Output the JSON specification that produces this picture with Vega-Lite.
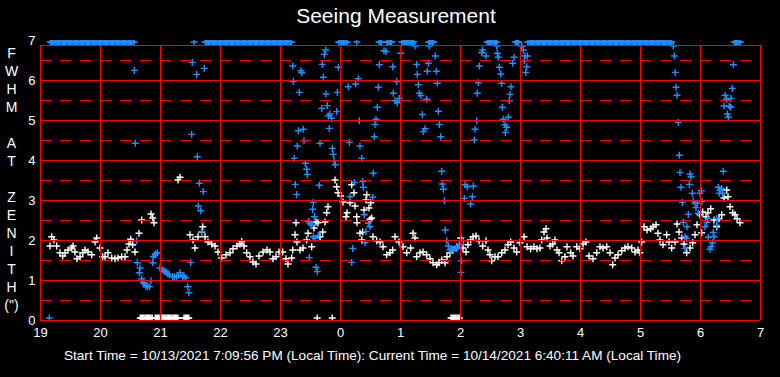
{
"$schema": "https://vega.github.io/schema/vega-lite/v6.json",
"width": 720, "height": 280,
"autosize": "none",
"padding": {"left": 40, "top": 40, "right": 20, "bottom": 57},
"background": "black",
"config": {"view": {"stroke": null}, "font": "Liberation Sans",
"axis": {"labelOverlap": false, "labelFlush": false, "labelBound": false, "domain": false, "ticks": false, "grid": false, "labelColor": "white", "labelFontSize": 13, "labelFont": "Liberation Sans", "titleColor": "white", "titleFontWeight": "normal", "titleFont": "Liberation Sans"}},
"title": {"text": "Seeing Measurement", "color": "white", "fontSize": 21, "fontWeight": "normal", "font": "Liberation Sans", "frame": "group", "anchor": "middle", "dx": -4, "offset": 7},
"datasets": {
"pts": [
{"t":19.167,"v":1.85,"s":"w"},{"t":19.195,"v":2.08,"s":"w"},{"t":19.233,"v":2.0,"s":"w"},{"t":19.278,"v":1.85,"s":"w"},{"t":19.333,"v":1.68,"s":"w"},{"t":19.378,"v":1.6,"s":"w"},{"t":19.417,"v":1.68,"s":"w"},{"t":19.467,"v":1.75,"s":"w"},{"t":19.528,"v":1.8,"s":"w"},{"t":19.55,"v":1.85,"s":"w"},{"t":19.583,"v":1.7,"s":"w"},{"t":19.617,"v":1.53,"s":"w"},{"t":19.667,"v":1.58,"s":"w"},{"t":19.712,"v":1.68,"s":"w"},{"t":19.75,"v":1.75,"s":"w"},{"t":19.8,"v":1.7,"s":"w"},{"t":19.862,"v":1.63,"s":"w"},{"t":19.917,"v":1.95,"s":"w"},{"t":19.945,"v":2.05,"s":"w"},{"t":20.0,"v":1.8,"s":"w"},{"t":20.045,"v":1.58,"s":"w"},{"t":20.083,"v":1.58,"s":"w"},{"t":20.133,"v":1.68,"s":"w"},{"t":20.195,"v":1.55,"s":"w"},{"t":20.25,"v":1.53,"s":"w"},{"t":20.3,"v":1.55,"s":"w"},{"t":20.362,"v":1.58,"s":"w"},{"t":20.417,"v":1.58,"s":"w"},{"t":20.45,"v":1.75,"s":"w"},{"t":20.483,"v":1.9,"s":"w"},{"t":20.512,"v":2.02,"s":"w"},{"t":20.545,"v":1.88,"s":"w"},{"t":20.583,"v":1.7,"s":"w"},{"t":20.65,"v":2.17,"s":"w"},{"t":20.695,"v":2.5,"s":"w"},{"t":20.85,"v":2.65,"s":"w"},{"t":20.878,"v":2.55,"s":"w"},{"t":20.9,"v":2.43,"s":"w"},{"t":21.3,"v":3.5,"s":"w"},{"t":21.333,"v":3.57,"s":"w"},{"t":21.5,"v":2.13,"s":"w"},{"t":21.55,"v":2.0,"s":"w"},{"t":21.583,"v":1.8,"s":"w"},{"t":21.633,"v":2.08,"s":"w"},{"t":21.695,"v":2.2,"s":"w"},{"t":21.712,"v":2.33,"s":"w"},{"t":21.75,"v":2.08,"s":"w"},{"t":21.8,"v":1.95,"s":"w"},{"t":21.862,"v":1.9,"s":"w"},{"t":21.917,"v":1.85,"s":"w"},{"t":21.967,"v":1.7,"s":"w"},{"t":22.028,"v":1.55,"s":"w"},{"t":22.1,"v":1.63,"s":"w"},{"t":22.167,"v":1.68,"s":"w"},{"t":22.217,"v":1.78,"s":"w"},{"t":22.283,"v":1.85,"s":"w"},{"t":22.333,"v":1.9,"s":"w"},{"t":22.362,"v":1.96,"s":"w"},{"t":22.4,"v":1.85,"s":"w"},{"t":22.445,"v":1.68,"s":"w"},{"t":22.5,"v":1.58,"s":"w"},{"t":22.55,"v":1.45,"s":"w"},{"t":22.6,"v":1.4,"s":"w"},{"t":22.65,"v":1.6,"s":"w"},{"t":22.717,"v":1.7,"s":"w"},{"t":22.783,"v":1.75,"s":"w"},{"t":22.833,"v":1.7,"s":"w"},{"t":22.883,"v":1.53,"s":"w"},{"t":22.933,"v":1.58,"s":"w"},{"t":22.983,"v":1.7,"s":"w"},{"t":23.045,"v":1.7,"s":"w"},{"t":23.1,"v":1.53,"s":"w"},{"t":23.133,"v":1.4,"s":"w"},{"t":23.195,"v":1.55,"s":"w"},{"t":23.212,"v":1.75,"s":"w"},{"t":23.25,"v":2.13,"s":"w"},{"t":23.267,"v":2.43,"s":"w"},{"t":23.283,"v":1.95,"s":"w"},{"t":23.333,"v":1.75,"s":"w"},{"t":23.383,"v":1.8,"s":"w"},{"t":23.445,"v":2.0,"s":"w"},{"t":23.467,"v":2.17,"s":"w"},{"t":23.528,"v":1.83,"s":"w"},{"t":23.567,"v":2.3,"s":"w"},{"t":23.6,"v":2.45,"s":"w"},{"t":23.633,"v":2.43,"s":"w"},{"t":23.667,"v":2.08,"s":"w"},{"t":23.712,"v":2.2,"s":"w"},{"t":23.75,"v":2.45,"s":"w"},{"t":23.778,"v":2.68,"s":"w"},{"t":23.8,"v":2.83,"s":"w"},{"t":23.917,"v":3.5,"s":"w"},{"t":23.945,"v":3.33,"s":"w"},{"t":23.967,"v":3.18,"s":"w"},{"t":24.012,"v":3.1,"s":"w"},{"t":24.05,"v":2.95,"s":"w"},{"t":24.1,"v":2.58,"s":"w"},{"t":24.117,"v":2.68,"s":"w"},{"t":24.167,"v":2.93,"s":"w"},{"t":24.195,"v":3.38,"s":"w"},{"t":24.233,"v":3.18,"s":"w"},{"t":24.25,"v":2.85,"s":"w"},{"t":24.278,"v":2.58,"s":"w"},{"t":24.283,"v":2.43,"s":"w"},{"t":24.333,"v":2.17,"s":"w"},{"t":24.362,"v":2.0,"s":"w"},{"t":24.378,"v":2.2,"s":"w"},{"t":24.4,"v":2.75,"s":"w"},{"t":24.433,"v":3.0,"s":"w"},{"t":24.445,"v":3.13,"s":"w"},{"t":24.483,"v":2.8,"s":"w"},{"t":24.5,"v":2.52,"s":"w"},{"t":24.512,"v":2.93,"s":"w"},{"t":24.528,"v":2.55,"s":"w"},{"t":24.55,"v":2.08,"s":"w"},{"t":24.612,"v":1.98,"s":"w"},{"t":24.667,"v":1.95,"s":"w"},{"t":24.717,"v":1.83,"s":"w"},{"t":24.778,"v":1.63,"s":"w"},{"t":24.833,"v":1.68,"s":"w"},{"t":24.878,"v":1.75,"s":"w"},{"t":24.917,"v":2.08,"s":"w"},{"t":24.983,"v":1.95,"s":"w"},{"t":25.05,"v":1.83,"s":"w"},{"t":25.112,"v":1.68,"s":"w"},{"t":25.178,"v":1.8,"s":"w"},{"t":25.217,"v":2.17,"s":"w"},{"t":25.25,"v":2.05,"s":"w"},{"t":25.278,"v":1.58,"s":"w"},{"t":25.333,"v":1.68,"s":"w"},{"t":25.383,"v":1.7,"s":"w"},{"t":25.445,"v":1.63,"s":"w"},{"t":25.5,"v":1.53,"s":"w"},{"t":25.55,"v":1.43,"s":"w"},{"t":25.612,"v":1.38,"s":"w"},{"t":25.65,"v":1.43,"s":"w"},{"t":25.695,"v":1.5,"s":"w"},{"t":25.75,"v":1.43,"s":"w"},{"t":25.783,"v":1.58,"s":"w"},{"t":25.833,"v":1.68,"s":"w"},{"t":25.883,"v":1.75,"s":"w"},{"t":25.95,"v":1.83,"s":"w"},{"t":26.012,"v":2.05,"s":"w"},{"t":26.05,"v":1.8,"s":"w"},{"t":26.1,"v":1.7,"s":"w"},{"t":26.133,"v":1.88,"s":"w"},{"t":26.178,"v":2.0,"s":"w"},{"t":26.217,"v":2.08,"s":"w"},{"t":26.267,"v":2.1,"s":"w"},{"t":26.317,"v":1.98,"s":"w"},{"t":26.378,"v":1.85,"s":"w"},{"t":26.433,"v":1.98,"s":"w"},{"t":26.467,"v":1.75,"s":"w"},{"t":26.5,"v":1.63,"s":"w"},{"t":26.528,"v":1.48,"s":"w"},{"t":26.583,"v":1.58,"s":"w"},{"t":26.633,"v":1.58,"s":"w"},{"t":26.695,"v":1.68,"s":"w"},{"t":26.75,"v":1.75,"s":"w"},{"t":26.8,"v":1.88,"s":"w"},{"t":26.845,"v":1.95,"s":"w"},{"t":26.9,"v":1.8,"s":"w"},{"t":26.945,"v":1.7,"s":"w"},{"t":27.0,"v":1.93,"s":"w"},{"t":27.067,"v":2.08,"s":"w"},{"t":27.117,"v":1.83,"s":"w"},{"t":27.178,"v":1.78,"s":"w"},{"t":27.233,"v":1.83,"s":"w"},{"t":27.283,"v":1.78,"s":"w"},{"t":27.333,"v":1.8,"s":"w"},{"t":27.362,"v":2.0,"s":"w"},{"t":27.4,"v":2.2,"s":"w"},{"t":27.433,"v":2.28,"s":"w"},{"t":27.45,"v":2.05,"s":"w"},{"t":27.5,"v":1.85,"s":"w"},{"t":27.545,"v":1.9,"s":"w"},{"t":27.583,"v":2.0,"s":"w"},{"t":27.617,"v":1.75,"s":"w"},{"t":27.65,"v":1.68,"s":"w"},{"t":27.695,"v":1.48,"s":"w"},{"t":27.75,"v":1.58,"s":"w"},{"t":27.783,"v":1.83,"s":"w"},{"t":27.845,"v":1.68,"s":"w"},{"t":27.883,"v":1.6,"s":"w"},{"t":27.945,"v":1.83,"s":"w"},{"t":28.0,"v":1.78,"s":"w"},{"t":28.05,"v":1.9,"s":"w"},{"t":28.1,"v":1.95,"s":"w"},{"t":28.15,"v":1.6,"s":"w"},{"t":28.217,"v":1.53,"s":"w"},{"t":28.278,"v":1.68,"s":"w"},{"t":28.333,"v":1.83,"s":"w"},{"t":28.383,"v":1.8,"s":"w"},{"t":28.445,"v":1.83,"s":"w"},{"t":28.5,"v":1.68,"s":"w"},{"t":28.545,"v":1.38,"s":"w"},{"t":28.583,"v":1.55,"s":"w"},{"t":28.633,"v":1.63,"s":"w"},{"t":28.695,"v":1.73,"s":"w"},{"t":28.75,"v":1.8,"s":"w"},{"t":28.8,"v":1.83,"s":"w"},{"t":28.862,"v":1.8,"s":"w"},{"t":28.917,"v":1.7,"s":"w"},{"t":28.967,"v":1.75,"s":"w"},{"t":29.0,"v":1.68,"s":"w"},{"t":29.028,"v":1.95,"s":"w"},{"t":29.067,"v":2.33,"s":"w"},{"t":29.117,"v":2.25,"s":"w"},{"t":29.178,"v":2.28,"s":"w"},{"t":29.217,"v":2.33,"s":"w"},{"t":29.267,"v":2.38,"s":"w"},{"t":29.3,"v":2.17,"s":"w"},{"t":29.333,"v":2.0,"s":"w"},{"t":29.383,"v":1.88,"s":"w"},{"t":29.445,"v":2.13,"s":"w"},{"t":29.483,"v":1.95,"s":"w"},{"t":29.528,"v":1.8,"s":"w"},{"t":29.583,"v":1.95,"s":"w"},{"t":29.617,"v":2.4,"s":"w"},{"t":29.65,"v":2.2,"s":"w"},{"t":29.695,"v":2.05,"s":"w"},{"t":29.733,"v":1.9,"s":"w"},{"t":29.778,"v":1.68,"s":"w"},{"t":29.833,"v":1.8,"s":"w"},{"t":29.878,"v":1.93,"s":"w"},{"t":29.917,"v":2.13,"s":"w"},{"t":29.95,"v":2.38,"s":"w"},{"t":30.0,"v":2.63,"s":"w"},{"t":30.028,"v":2.18,"s":"w"},{"t":30.045,"v":2.7,"s":"w"},{"t":30.1,"v":2.58,"s":"w"},{"t":30.133,"v":2.68,"s":"w"},{"t":30.178,"v":2.78,"s":"w"},{"t":30.233,"v":2.5,"s":"w"},{"t":30.278,"v":2.33,"s":"w"},{"t":30.317,"v":2.53,"s":"w"},{"t":30.362,"v":2.63,"s":"w"},{"t":30.4,"v":3.05,"s":"w"},{"t":30.445,"v":3.25,"s":"w"},{"t":30.467,"v":3.08,"s":"w"},{"t":30.5,"v":2.83,"s":"w"},{"t":30.545,"v":2.68,"s":"w"},{"t":30.583,"v":2.63,"s":"w"},{"t":30.617,"v":2.53,"s":"w"},{"t":30.667,"v":2.43,"s":"w"},
{"t":20.67,"v":0.05,"s":"w"},{"t":20.69,"v":0.05,"s":"w"},{"t":20.71,"v":0.05,"s":"w"},{"t":20.73,"v":0.05,"s":"w"},{"t":20.75,"v":0.05,"s":"w"},{"t":20.77,"v":0.05,"s":"w"},{"t":20.79,"v":0.05,"s":"w"},{"t":20.81,"v":0.05,"s":"w"},{"t":20.83,"v":0.05,"s":"w"},{"t":20.85,"v":0.05,"s":"w"},{"t":20.87,"v":0.05,"s":"w"},{"t":20.92,"v":0.05,"s":"w"},{"t":20.94,"v":0.05,"s":"w"},{"t":20.96,"v":0.05,"s":"w"},{"t":20.98,"v":0.05,"s":"w"},{"t":21.0,"v":0.05,"s":"w"},{"t":21.02,"v":0.05,"s":"w"},{"t":21.04,"v":0.05,"s":"w"},{"t":21.06,"v":0.05,"s":"w"},{"t":21.08,"v":0.05,"s":"w"},{"t":21.1,"v":0.05,"s":"w"},{"t":21.12,"v":0.05,"s":"w"},{"t":21.14,"v":0.05,"s":"w"},{"t":21.16,"v":0.05,"s":"w"},{"t":21.18,"v":0.05,"s":"w"},{"t":21.2,"v":0.05,"s":"w"},{"t":21.22,"v":0.05,"s":"w"},{"t":21.24,"v":0.05,"s":"w"},{"t":21.26,"v":0.05,"s":"w"},{"t":21.28,"v":0.05,"s":"w"},{"t":21.3,"v":0.05,"s":"w"},{"t":21.4,"v":0.05,"s":"w"},{"t":21.42,"v":0.05,"s":"w"},{"t":21.44,"v":0.05,"s":"w"},{"t":21.46,"v":0.05,"s":"w"},{"t":21.48,"v":0.05,"s":"w"},{"t":25.85,"v":0.05,"s":"w"},{"t":25.87,"v":0.05,"s":"w"},{"t":25.89,"v":0.05,"s":"w"},{"t":25.91,"v":0.05,"s":"w"},{"t":25.93,"v":0.05,"s":"w"},{"t":25.95,"v":0.05,"s":"w"},{"t":25.97,"v":0.05,"s":"w"},{"t":25.99,"v":0.05,"s":"w"},{"t":23.62,"v":0.05,"s":"w"},{"t":23.87,"v":0.05,"s":"w"},
{"t":19.155,"v":0.05,"s":"b"},{"t":20.572,"v":6.24,"s":"b"},{"t":20.588,"v":4.42,"s":"b"},{"t":20.612,"v":1.98,"s":"b"},{"t":20.622,"v":1.43,"s":"b"},{"t":20.667,"v":1.3,"s":"b"},{"t":20.655,"v":1.18,"s":"b"},{"t":20.695,"v":1.03,"s":"b"},{"t":20.722,"v":0.93,"s":"b"},{"t":20.74,"v":0.9,"s":"b"},{"t":20.767,"v":0.83,"s":"b"},{"t":20.79,"v":0.85,"s":"b"},{"t":20.822,"v":0.83,"s":"b"},{"t":20.85,"v":0.98,"s":"b"},{"t":20.878,"v":1.43,"s":"b"},{"t":20.888,"v":1.58,"s":"b"},{"t":20.917,"v":1.63,"s":"b"},{"t":20.93,"v":1.65,"s":"b"},{"t":20.955,"v":1.68,"s":"b"},{"t":21.0,"v":1.3,"s":"b"},{"t":21.045,"v":1.25,"s":"b"},{"t":21.07,"v":1.22,"s":"b"},{"t":21.1,"v":1.2,"s":"b"},{"t":21.13,"v":1.15,"s":"b"},{"t":21.155,"v":1.13,"s":"b"},{"t":21.212,"v":1.08,"s":"b"},{"t":21.24,"v":1.08,"s":"b"},{"t":21.278,"v":1.08,"s":"b"},{"t":21.31,"v":1.12,"s":"b"},{"t":21.333,"v":1.18,"s":"b"},{"t":21.378,"v":1.08,"s":"b"},{"t":21.4,"v":1.1,"s":"b"},{"t":21.428,"v":1.05,"s":"b"},{"t":21.462,"v":0.83,"s":"b"},{"t":21.483,"v":0.68,"s":"b"},{"t":21.512,"v":1.44,"s":"b"},{"t":21.528,"v":4.64,"s":"b"},{"t":21.538,"v":6.44,"s":"b"},{"t":21.612,"v":6.14,"s":"b"},{"t":21.622,"v":4.08,"s":"b"},{"t":21.638,"v":2.85,"s":"b"},{"t":21.655,"v":3.42,"s":"b"},{"t":21.678,"v":2.73,"s":"b"},{"t":21.695,"v":2.21,"s":"b"},{"t":21.722,"v":3.21,"s":"b"},{"t":21.738,"v":6.29,"s":"b"},
{"t":23.212,"v":6.35,"s":"b"},{"t":23.222,"v":5.96,"s":"b"},{"t":23.238,"v":4.04,"s":"b"},{"t":23.255,"v":3.39,"s":"b"},{"t":23.278,"v":3.14,"s":"b"},{"t":23.288,"v":4.35,"s":"b"},{"t":23.305,"v":4.73,"s":"b"},{"t":23.322,"v":5.69,"s":"b"},{"t":23.35,"v":6.23,"s":"b"},{"t":23.362,"v":6.18,"s":"b"},{"t":23.388,"v":4.77,"s":"b"},{"t":23.4,"v":4.48,"s":"b"},{"t":23.422,"v":3.92,"s":"b"},{"t":23.445,"v":3.77,"s":"b"},{"t":23.455,"v":3.64,"s":"b"},{"t":23.472,"v":2.46,"s":"b"},{"t":23.488,"v":1.56,"s":"b"},{"t":23.5,"v":2.42,"s":"b"},{"t":23.528,"v":2.37,"s":"b"},{"t":23.545,"v":2.77,"s":"b"},{"t":23.555,"v":2.94,"s":"b"},{"t":23.555,"v":2.08,"s":"b"},{"t":23.572,"v":2.58,"s":"b"},{"t":23.583,"v":2.04,"s":"b"},{"t":23.6,"v":1.32,"s":"b"},{"t":23.622,"v":1.21,"s":"b"},{"t":23.638,"v":2.11,"s":"b"},{"t":23.655,"v":3.37,"s":"b"},{"t":23.667,"v":4.42,"s":"b"},{"t":23.695,"v":5.29,"s":"b"},{"t":23.705,"v":6.39,"s":"b"},{"t":23.722,"v":6.07,"s":"b"},{"t":23.738,"v":6.64,"s":"b"},{"t":23.762,"v":6.75,"s":"b"},{"t":23.767,"v":5.65,"s":"b"},{"t":23.788,"v":5.36,"s":"b"},{"t":23.805,"v":5.1,"s":"b"},{"t":23.822,"v":4.79,"s":"b"},{"t":23.833,"v":5.15,"s":"b"},{"t":23.862,"v":5.04,"s":"b"},{"t":23.872,"v":4.29,"s":"b"},{"t":23.888,"v":4.14,"s":"b"},{"t":23.9,"v":3.98,"s":"b"},{"t":23.922,"v":3.88,"s":"b"},{"t":23.945,"v":5.21,"s":"b"},{"t":23.955,"v":5.69,"s":"b"},{"t":23.972,"v":6.32,"s":"b"},
{"t":24.138,"v":5.83,"s":"b"},{"t":24.155,"v":4.44,"s":"b"},{"t":24.167,"v":3.08,"s":"b"},{"t":24.195,"v":1.44,"s":"b"},{"t":24.212,"v":1.79,"s":"b"},{"t":24.238,"v":3.44,"s":"b"},{"t":24.262,"v":5.9,"s":"b"},{"t":24.305,"v":6.03,"s":"b"},{"t":24.322,"v":4.98,"s":"b"},{"t":24.333,"v":4.35,"s":"b"},{"t":24.362,"v":4.04,"s":"b"},{"t":24.378,"v":3.46,"s":"b"},{"t":24.388,"v":3.32,"s":"b"},{"t":24.405,"v":2.63,"s":"b"},{"t":24.417,"v":1.93,"s":"b"},{"t":24.433,"v":2.21,"s":"b"},{"t":24.472,"v":2.42,"s":"b"},{"t":24.5,"v":2.33,"s":"b"},{"t":24.545,"v":3.07,"s":"b"},{"t":24.555,"v":3.67,"s":"b"},{"t":24.572,"v":4.58,"s":"b"},{"t":24.583,"v":4.89,"s":"b"},{"t":24.6,"v":5.02,"s":"b"},{"t":24.622,"v":5.32,"s":"b"},{"t":24.638,"v":5.82,"s":"b"},{"t":24.655,"v":6.38,"s":"b"},{"t":24.733,"v":6.73,"s":"b"},{"t":24.767,"v":6.71,"s":"b"},{"t":24.878,"v":6.33,"s":"b"},{"t":24.888,"v":5.67,"s":"b"},{"t":24.917,"v":5.48,"s":"b"},{"t":24.945,"v":5.96,"s":"b"},{"t":24.955,"v":5.43,"s":"b"},{"t":24.988,"v":5.54,"s":"b"},{"t":25.012,"v":6.67,"s":"b"},{"t":25.25,"v":6.85,"s":"b"},{"t":25.278,"v":6.39,"s":"b"},{"t":25.288,"v":6.14,"s":"b"},{"t":25.305,"v":5.88,"s":"b"},{"t":25.322,"v":5.67,"s":"b"},{"t":25.35,"v":5.61,"s":"b"},{"t":25.372,"v":5.14,"s":"b"},{"t":25.388,"v":4.71,"s":"b"},{"t":25.417,"v":4.78,"s":"b"},{"t":25.445,"v":5.52,"s":"b"},{"t":25.455,"v":6.22,"s":"b"},{"t":25.472,"v":6.42,"s":"b"},{"t":25.488,"v":6.85,"s":"b"},{"t":25.588,"v":6.6,"s":"b"},{"t":25.605,"v":6.22,"s":"b"},{"t":25.622,"v":5.92,"s":"b"},{"t":25.638,"v":5.22,"s":"b"},{"t":25.655,"v":4.89,"s":"b"},{"t":25.678,"v":4.58,"s":"b"},{"t":25.695,"v":3.72,"s":"b"},{"t":25.705,"v":3.4,"s":"b"},{"t":25.722,"v":3.27,"s":"b"},{"t":25.738,"v":2.98,"s":"b"},{"t":25.755,"v":2.25,"s":"b"},{"t":25.778,"v":1.98,"s":"b"},{"t":25.805,"v":1.85,"s":"b"},{"t":25.833,"v":1.75,"s":"b"},{"t":25.862,"v":1.77,"s":"b"},{"t":25.888,"v":1.75,"s":"b"},{"t":25.917,"v":1.78,"s":"b"},{"t":25.945,"v":1.79,"s":"b"},{"t":25.967,"v":1.83,"s":"b"},{"t":25.988,"v":1.88,"s":"b"},{"t":26.028,"v":1.48,"s":"b"},{"t":26.017,"v":1.19,"s":"b"},{"t":26.055,"v":1.98,"s":"b"},{"t":26.072,"v":3.04,"s":"b"},{"t":26.083,"v":3.38,"s":"b"},{"t":26.122,"v":3.33,"s":"b"},{"t":26.178,"v":2.9,"s":"b"},{"t":26.205,"v":3.08,"s":"b"},{"t":26.222,"v":3.35,"s":"b"},{"t":26.238,"v":4.5,"s":"b"},{"t":26.25,"v":4.77,"s":"b"},{"t":26.278,"v":4.98,"s":"b"},{"t":26.288,"v":5.67,"s":"b"},{"t":26.305,"v":5.93,"s":"b"},{"t":26.322,"v":6.35,"s":"b"},{"t":26.362,"v":6.68,"s":"b"},{"t":26.378,"v":6.75,"s":"b"},{"t":26.433,"v":6.6,"s":"b"},{"t":26.612,"v":6.85,"s":"b"},{"t":26.622,"v":6.67,"s":"b"},{"t":26.638,"v":6.57,"s":"b"},{"t":26.655,"v":6.32,"s":"b"},{"t":26.678,"v":6.15,"s":"b"},{"t":26.695,"v":5.92,"s":"b"},{"t":26.705,"v":5.32,"s":"b"},{"t":26.722,"v":5.02,"s":"b"},{"t":26.75,"v":4.88,"s":"b"},{"t":26.755,"v":4.69,"s":"b"},{"t":26.778,"v":4.82,"s":"b"},{"t":26.805,"v":5.07,"s":"b"},{"t":26.822,"v":5.48,"s":"b"},{"t":26.833,"v":5.64,"s":"b"},{"t":26.85,"v":5.83,"s":"b"},{"t":26.878,"v":6.42,"s":"b"},{"t":26.9,"v":6.57,"s":"b"},{"t":27.028,"v":6.85,"s":"b"},{"t":27.055,"v":6.75,"s":"b"},{"t":27.072,"v":6.48,"s":"b"},{"t":27.083,"v":6.6,"s":"b"},{"t":27.095,"v":6.19,"s":"b"},{"t":27.112,"v":6.33,"s":"b"},{"t":27.122,"v":6.6,"s":"b"},
{"t":29.555,"v":6.85,"s":"b"},{"t":29.572,"v":6.6,"s":"b"},{"t":29.588,"v":6.19,"s":"b"},{"t":29.6,"v":5.82,"s":"b"},{"t":29.617,"v":5.62,"s":"b"},{"t":29.638,"v":4.94,"s":"b"},{"t":29.655,"v":4.12,"s":"b"},{"t":29.667,"v":3.69,"s":"b"},{"t":29.683,"v":3.32,"s":"b"},{"t":29.705,"v":2.94,"s":"b"},{"t":29.722,"v":2.44,"s":"b"},{"t":29.75,"v":2.08,"s":"b"},{"t":29.75,"v":1.79,"s":"b"},{"t":29.778,"v":2.04,"s":"b"},{"t":29.783,"v":2.33,"s":"b"},{"t":29.805,"v":2.64,"s":"b"},{"t":29.822,"v":3.39,"s":"b"},{"t":29.833,"v":3.65,"s":"b"},{"t":29.85,"v":3.58,"s":"b"},{"t":29.872,"v":3.17,"s":"b"},{"t":29.888,"v":2.98,"s":"b"},{"t":29.917,"v":2.92,"s":"b"},{"t":29.933,"v":2.81,"s":"b"},{"t":29.955,"v":2.92,"s":"b"},{"t":29.972,"v":2.67,"s":"b"},{"t":30.0,"v":3.17,"s":"b"},{"t":30.022,"v":3.23,"s":"b"},{"t":30.033,"v":2.97,"s":"b"},{"t":30.083,"v":2.33,"s":"b"},{"t":30.112,"v":2.44,"s":"b"},{"t":30.128,"v":2.54,"s":"b"},{"t":30.138,"v":2.07,"s":"b"},{"t":30.167,"v":1.77,"s":"b"},{"t":30.183,"v":1.83,"s":"b"},{"t":30.205,"v":1.93,"s":"b"},{"t":30.222,"v":2.19,"s":"b"},{"t":30.233,"v":2.08,"s":"b"},{"t":30.278,"v":2.54,"s":"b"},{"t":30.278,"v":2.37,"s":"b"},{"t":30.305,"v":3.32,"s":"b"},{"t":30.322,"v":3.17,"s":"b"},{"t":30.333,"v":3.25,"s":"b"},{"t":30.362,"v":3.29,"s":"b"},{"t":30.378,"v":3.17,"s":"b"},{"t":30.388,"v":3.72,"s":"b"},{"t":30.4,"v":5.35,"s":"b"},{"t":30.417,"v":5.62,"s":"b"},{"t":30.445,"v":5.52,"s":"b"},{"t":30.455,"v":5.15,"s":"b"},{"t":30.472,"v":5.07,"s":"b"},{"t":30.488,"v":5.35,"s":"b"},{"t":30.512,"v":5.32,"s":"b"},{"t":30.517,"v":5.54,"s":"b"},{"t":30.538,"v":5.79,"s":"b"},{"t":30.555,"v":6.38,"s":"b"},
{"t":19.17,"v":6.95,"s":"b"},{"t":19.19,"v":6.95,"s":"b"},{"t":19.21,"v":6.95,"s":"b"},{"t":19.23,"v":6.95,"s":"b"},{"t":19.25,"v":6.95,"s":"b"},{"t":19.27,"v":6.95,"s":"b"},{"t":19.29,"v":6.95,"s":"b"},{"t":19.31,"v":6.95,"s":"b"},{"t":19.33,"v":6.95,"s":"b"},{"t":19.35,"v":6.95,"s":"b"},{"t":19.37,"v":6.95,"s":"b"},{"t":19.39,"v":6.95,"s":"b"},{"t":19.41,"v":6.95,"s":"b"},{"t":19.43,"v":6.95,"s":"b"},{"t":19.45,"v":6.95,"s":"b"},{"t":19.47,"v":6.95,"s":"b"},{"t":19.49,"v":6.95,"s":"b"},{"t":19.51,"v":6.95,"s":"b"},{"t":19.53,"v":6.95,"s":"b"},{"t":19.55,"v":6.95,"s":"b"},{"t":19.57,"v":6.95,"s":"b"},{"t":19.59,"v":6.95,"s":"b"},{"t":19.61,"v":6.95,"s":"b"},{"t":19.63,"v":6.95,"s":"b"},{"t":19.65,"v":6.95,"s":"b"},{"t":19.67,"v":6.95,"s":"b"},{"t":19.69,"v":6.95,"s":"b"},{"t":19.71,"v":6.95,"s":"b"},{"t":19.73,"v":6.95,"s":"b"},{"t":19.75,"v":6.95,"s":"b"},{"t":19.77,"v":6.95,"s":"b"},{"t":19.79,"v":6.95,"s":"b"},{"t":19.81,"v":6.95,"s":"b"},{"t":19.83,"v":6.95,"s":"b"},{"t":19.85,"v":6.95,"s":"b"},{"t":19.87,"v":6.95,"s":"b"},{"t":19.89,"v":6.95,"s":"b"},{"t":19.91,"v":6.95,"s":"b"},{"t":19.93,"v":6.95,"s":"b"},{"t":19.95,"v":6.95,"s":"b"},{"t":19.97,"v":6.95,"s":"b"},{"t":19.99,"v":6.95,"s":"b"},{"t":20.01,"v":6.95,"s":"b"},{"t":20.03,"v":6.95,"s":"b"},{"t":20.05,"v":6.95,"s":"b"},{"t":20.07,"v":6.95,"s":"b"},{"t":20.09,"v":6.95,"s":"b"},{"t":20.11,"v":6.95,"s":"b"},{"t":20.13,"v":6.95,"s":"b"},{"t":20.15,"v":6.95,"s":"b"},{"t":20.17,"v":6.95,"s":"b"},{"t":20.19,"v":6.95,"s":"b"},{"t":20.21,"v":6.95,"s":"b"},{"t":20.23,"v":6.95,"s":"b"},{"t":20.25,"v":6.95,"s":"b"},{"t":20.27,"v":6.95,"s":"b"},{"t":20.29,"v":6.95,"s":"b"},{"t":20.31,"v":6.95,"s":"b"},{"t":20.33,"v":6.95,"s":"b"},{"t":20.35,"v":6.95,"s":"b"},{"t":20.37,"v":6.95,"s":"b"},{"t":20.39,"v":6.95,"s":"b"},{"t":20.41,"v":6.95,"s":"b"},{"t":20.43,"v":6.95,"s":"b"},{"t":20.45,"v":6.95,"s":"b"},{"t":20.47,"v":6.95,"s":"b"},{"t":20.49,"v":6.95,"s":"b"},{"t":20.51,"v":6.95,"s":"b"},{"t":20.53,"v":6.95,"s":"b"},{"t":20.55,"v":6.95,"s":"b"},{"t":20.57,"v":6.95,"s":"b"},
{"t":21.567,"v":6.95,"s":"b"},
{"t":21.75,"v":6.95,"s":"b"},{"t":21.77,"v":6.95,"s":"b"},{"t":21.79,"v":6.95,"s":"b"},{"t":21.81,"v":6.95,"s":"b"},{"t":21.83,"v":6.95,"s":"b"},{"t":21.85,"v":6.95,"s":"b"},{"t":21.87,"v":6.95,"s":"b"},{"t":21.89,"v":6.95,"s":"b"},{"t":21.91,"v":6.95,"s":"b"},{"t":21.93,"v":6.95,"s":"b"},{"t":21.95,"v":6.95,"s":"b"},{"t":21.97,"v":6.95,"s":"b"},{"t":21.99,"v":6.95,"s":"b"},{"t":22.01,"v":6.95,"s":"b"},{"t":22.03,"v":6.95,"s":"b"},{"t":22.05,"v":6.95,"s":"b"},{"t":22.07,"v":6.95,"s":"b"},{"t":22.09,"v":6.95,"s":"b"},{"t":22.11,"v":6.95,"s":"b"},{"t":22.13,"v":6.95,"s":"b"},{"t":22.15,"v":6.95,"s":"b"},{"t":22.17,"v":6.95,"s":"b"},{"t":22.19,"v":6.95,"s":"b"},{"t":22.21,"v":6.95,"s":"b"},{"t":22.23,"v":6.95,"s":"b"},{"t":22.25,"v":6.95,"s":"b"},{"t":22.27,"v":6.95,"s":"b"},{"t":22.29,"v":6.95,"s":"b"},{"t":22.31,"v":6.95,"s":"b"},{"t":22.33,"v":6.95,"s":"b"},{"t":22.35,"v":6.95,"s":"b"},{"t":22.37,"v":6.95,"s":"b"},{"t":22.39,"v":6.95,"s":"b"},{"t":22.41,"v":6.95,"s":"b"},{"t":22.43,"v":6.95,"s":"b"},{"t":22.45,"v":6.95,"s":"b"},{"t":22.47,"v":6.95,"s":"b"},{"t":22.49,"v":6.95,"s":"b"},{"t":22.51,"v":6.95,"s":"b"},{"t":22.53,"v":6.95,"s":"b"},{"t":22.55,"v":6.95,"s":"b"},{"t":22.57,"v":6.95,"s":"b"},{"t":22.59,"v":6.95,"s":"b"},{"t":22.61,"v":6.95,"s":"b"},{"t":22.63,"v":6.95,"s":"b"},{"t":22.65,"v":6.95,"s":"b"},{"t":22.67,"v":6.95,"s":"b"},{"t":22.69,"v":6.95,"s":"b"},{"t":22.71,"v":6.95,"s":"b"},{"t":22.73,"v":6.95,"s":"b"},{"t":22.75,"v":6.95,"s":"b"},{"t":22.77,"v":6.95,"s":"b"},{"t":22.79,"v":6.95,"s":"b"},{"t":22.81,"v":6.95,"s":"b"},{"t":22.83,"v":6.95,"s":"b"},{"t":22.85,"v":6.95,"s":"b"},{"t":22.87,"v":6.95,"s":"b"},{"t":22.89,"v":6.95,"s":"b"},{"t":22.91,"v":6.95,"s":"b"},{"t":22.93,"v":6.95,"s":"b"},{"t":22.95,"v":6.95,"s":"b"},{"t":22.97,"v":6.95,"s":"b"},{"t":22.99,"v":6.95,"s":"b"},{"t":23.01,"v":6.95,"s":"b"},{"t":23.03,"v":6.95,"s":"b"},{"t":23.05,"v":6.95,"s":"b"},{"t":23.07,"v":6.95,"s":"b"},{"t":23.09,"v":6.95,"s":"b"},{"t":23.11,"v":6.95,"s":"b"},{"t":23.13,"v":6.95,"s":"b"},{"t":23.15,"v":6.95,"s":"b"},{"t":23.17,"v":6.95,"s":"b"},{"t":23.19,"v":6.95,"s":"b"},
{"t":23.98,"v":6.95,"s":"b"},{"t":24.0,"v":6.95,"s":"b"},{"t":24.02,"v":6.95,"s":"b"},{"t":24.04,"v":6.95,"s":"b"},{"t":24.06,"v":6.95,"s":"b"},{"t":24.08,"v":6.95,"s":"b"},{"t":24.1,"v":6.95,"s":"b"},{"t":24.12,"v":6.95,"s":"b"},{"t":24.28,"v":6.95,"s":"b"},
{"t":24.65,"v":6.95,"s":"b"},{"t":24.67,"v":6.95,"s":"b"},{"t":24.69,"v":6.95,"s":"b"},{"t":24.78,"v":6.95,"s":"b"},{"t":24.8,"v":6.95,"s":"b"},{"t":24.82,"v":6.95,"s":"b"},{"t":24.84,"v":6.95,"s":"b"},{"t":24.86,"v":6.95,"s":"b"},
{"t":25.03,"v":6.95,"s":"b"},{"t":25.05,"v":6.95,"s":"b"},{"t":25.07,"v":6.95,"s":"b"},{"t":25.09,"v":6.95,"s":"b"},{"t":25.11,"v":6.95,"s":"b"},{"t":25.13,"v":6.95,"s":"b"},{"t":25.15,"v":6.95,"s":"b"},{"t":25.17,"v":6.95,"s":"b"},{"t":25.19,"v":6.95,"s":"b"},{"t":25.21,"v":6.95,"s":"b"},{"t":25.23,"v":6.95,"s":"b"},
{"t":25.48,"v":6.95,"s":"b"},{"t":25.5,"v":6.95,"s":"b"},{"t":25.52,"v":6.95,"s":"b"},{"t":25.54,"v":6.95,"s":"b"},{"t":25.56,"v":6.95,"s":"b"},
{"t":26.45,"v":6.95,"s":"b"},{"t":26.47,"v":6.95,"s":"b"},{"t":26.49,"v":6.95,"s":"b"},{"t":26.51,"v":6.95,"s":"b"},{"t":26.53,"v":6.95,"s":"b"},{"t":26.55,"v":6.95,"s":"b"},{"t":26.57,"v":6.95,"s":"b"},{"t":26.59,"v":6.95,"s":"b"},{"t":26.61,"v":6.95,"s":"b"},
{"t":26.92,"v":6.95,"s":"b"},{"t":26.94,"v":6.95,"s":"b"},{"t":26.96,"v":6.95,"s":"b"},{"t":26.98,"v":6.95,"s":"b"},
{"t":27.13,"v":6.95,"s":"b"},{"t":27.15,"v":6.95,"s":"b"},{"t":27.17,"v":6.95,"s":"b"},{"t":27.19,"v":6.95,"s":"b"},{"t":27.21,"v":6.95,"s":"b"},{"t":27.23,"v":6.95,"s":"b"},{"t":27.25,"v":6.95,"s":"b"},{"t":27.27,"v":6.95,"s":"b"},{"t":27.29,"v":6.95,"s":"b"},{"t":27.31,"v":6.95,"s":"b"},{"t":27.33,"v":6.95,"s":"b"},{"t":27.35,"v":6.95,"s":"b"},{"t":27.37,"v":6.95,"s":"b"},{"t":27.39,"v":6.95,"s":"b"},{"t":27.41,"v":6.95,"s":"b"},{"t":27.43,"v":6.95,"s":"b"},{"t":27.45,"v":6.95,"s":"b"},{"t":27.47,"v":6.95,"s":"b"},{"t":27.49,"v":6.95,"s":"b"},{"t":27.51,"v":6.95,"s":"b"},{"t":27.53,"v":6.95,"s":"b"},{"t":27.55,"v":6.95,"s":"b"},{"t":27.57,"v":6.95,"s":"b"},{"t":27.59,"v":6.95,"s":"b"},{"t":27.61,"v":6.95,"s":"b"},{"t":27.63,"v":6.95,"s":"b"},{"t":27.65,"v":6.95,"s":"b"},{"t":27.67,"v":6.95,"s":"b"},{"t":27.69,"v":6.95,"s":"b"},{"t":27.71,"v":6.95,"s":"b"},{"t":27.73,"v":6.95,"s":"b"},{"t":27.75,"v":6.95,"s":"b"},{"t":27.77,"v":6.95,"s":"b"},{"t":27.79,"v":6.95,"s":"b"},{"t":27.81,"v":6.95,"s":"b"},{"t":27.83,"v":6.95,"s":"b"},{"t":27.85,"v":6.95,"s":"b"},{"t":27.87,"v":6.95,"s":"b"},{"t":27.89,"v":6.95,"s":"b"},{"t":27.91,"v":6.95,"s":"b"},{"t":27.93,"v":6.95,"s":"b"},{"t":27.95,"v":6.95,"s":"b"},{"t":27.97,"v":6.95,"s":"b"},{"t":27.99,"v":6.95,"s":"b"},{"t":28.01,"v":6.95,"s":"b"},{"t":28.03,"v":6.95,"s":"b"},{"t":28.05,"v":6.95,"s":"b"},{"t":28.07,"v":6.95,"s":"b"},{"t":28.09,"v":6.95,"s":"b"},{"t":28.11,"v":6.95,"s":"b"},{"t":28.13,"v":6.95,"s":"b"},{"t":28.15,"v":6.95,"s":"b"},{"t":28.17,"v":6.95,"s":"b"},{"t":28.19,"v":6.95,"s":"b"},{"t":28.21,"v":6.95,"s":"b"},{"t":28.23,"v":6.95,"s":"b"},{"t":28.25,"v":6.95,"s":"b"},{"t":28.27,"v":6.95,"s":"b"},{"t":28.29,"v":6.95,"s":"b"},{"t":28.31,"v":6.95,"s":"b"},{"t":28.33,"v":6.95,"s":"b"},{"t":28.35,"v":6.95,"s":"b"},{"t":28.37,"v":6.95,"s":"b"},{"t":28.39,"v":6.95,"s":"b"},{"t":28.41,"v":6.95,"s":"b"},{"t":28.43,"v":6.95,"s":"b"},{"t":28.45,"v":6.95,"s":"b"},{"t":28.47,"v":6.95,"s":"b"},{"t":28.49,"v":6.95,"s":"b"},{"t":28.51,"v":6.95,"s":"b"},{"t":28.53,"v":6.95,"s":"b"},{"t":28.55,"v":6.95,"s":"b"},{"t":28.57,"v":6.95,"s":"b"},{"t":28.59,"v":6.95,"s":"b"},{"t":28.61,"v":6.95,"s":"b"},{"t":28.63,"v":6.95,"s":"b"},{"t":28.65,"v":6.95,"s":"b"},{"t":28.67,"v":6.95,"s":"b"},{"t":28.69,"v":6.95,"s":"b"},{"t":28.71,"v":6.95,"s":"b"},{"t":28.73,"v":6.95,"s":"b"},{"t":28.75,"v":6.95,"s":"b"},{"t":28.77,"v":6.95,"s":"b"},{"t":28.79,"v":6.95,"s":"b"},{"t":28.81,"v":6.95,"s":"b"},{"t":28.83,"v":6.95,"s":"b"},{"t":28.85,"v":6.95,"s":"b"},{"t":28.87,"v":6.95,"s":"b"},{"t":28.89,"v":6.95,"s":"b"},{"t":28.91,"v":6.95,"s":"b"},{"t":28.93,"v":6.95,"s":"b"},{"t":28.95,"v":6.95,"s":"b"},{"t":28.97,"v":6.95,"s":"b"},{"t":28.99,"v":6.95,"s":"b"},{"t":29.01,"v":6.95,"s":"b"},{"t":29.03,"v":6.95,"s":"b"},{"t":29.05,"v":6.95,"s":"b"},{"t":29.07,"v":6.95,"s":"b"},{"t":29.09,"v":6.95,"s":"b"},{"t":29.11,"v":6.95,"s":"b"},{"t":29.13,"v":6.95,"s":"b"},{"t":29.15,"v":6.95,"s":"b"},{"t":29.17,"v":6.95,"s":"b"},{"t":29.19,"v":6.95,"s":"b"},{"t":29.21,"v":6.95,"s":"b"},{"t":29.23,"v":6.95,"s":"b"},{"t":29.25,"v":6.95,"s":"b"},{"t":29.27,"v":6.95,"s":"b"},{"t":29.29,"v":6.95,"s":"b"},{"t":29.31,"v":6.95,"s":"b"},{"t":29.33,"v":6.95,"s":"b"},{"t":29.35,"v":6.95,"s":"b"},{"t":29.37,"v":6.95,"s":"b"},{"t":29.39,"v":6.95,"s":"b"},{"t":29.41,"v":6.95,"s":"b"},{"t":29.43,"v":6.95,"s":"b"},{"t":29.45,"v":6.95,"s":"b"},{"t":29.47,"v":6.95,"s":"b"},{"t":29.49,"v":6.95,"s":"b"},{"t":29.51,"v":6.95,"s":"b"},{"t":29.53,"v":6.95,"s":"b"},
{"t":30.57,"v":6.95,"s":"b"},{"t":30.59,"v":6.95,"s":"b"},{"t":30.61,"v":6.95,"s":"b"},{"t":30.63,"v":6.95,"s":"b"},{"t":30.65,"v":6.95,"s":"b"},{"t":30.67,"v":6.95,"s":"b"}
],
"hours": [{"t":19},{"t":20},{"t":21},{"t":22},{"t":23},{"t":24},{"t":25},{"t":26},{"t":27},{"t":28},{"t":29},{"t":30},{"t":31}],
"solid": [{"v":0},{"v":1},{"v":2},{"v":3},{"v":4},{"v":5},{"v":6},{"v":6.875}],
"dashed": [{"v":0.5},{"v":1.5},{"v":2.5},{"v":3.5},{"v":4.5},{"v":5.5},{"v":6.5}]
},
"layer": [
{
"data": {"name": "pts"},
"mark": {"type": "point", "shape": "M-1,0H1M0,-1V1", "filled": false, "size": 49, "strokeWidth": 1.4, "opacity": 1, "clip": true},
"encoding": {
"x": {"field": "t", "type": "quantitative", "scale": {"domain": [19, 31], "nice": false, "zero": false},
"axis": {"values": [19,20,21,22,23,24,25,26,27,28,29,30,31], "labelExpr": "datum.value % 24", "labelPadding": 6, "labelOverlap": false,
"title": "Start Time = 10/13/2021 7:09:56 PM (Local Time): Current Time = 10/14/2021 6:40:11 AM (Local Time)", "titleFontSize": 13.6, "titleX": 332, "titleY": 35, "titleBaseline": "middle", "titleAlign": "center"}},
"y": {"field": "v", "type": "quantitative", "scale": {"domain": [0, 7], "nice": false, "zero": false},
"axis": {"values": [0,1,2,3,4,5,6,7], "tickCount": 8, "labelPadding": 5, "labelOverlap": false,
"title": ["F","W","H","M","\u2800","A","T","\u2800","Z","E","N","I","T","H","(\")"], "titleAngle": 0, "titleX": -29, "titleY": 13, "titleAlign": "center", "titleBaseline": "middle", "titleFontSize": 14, "titleLineHeight": 18}},
"color": {"field": "s", "type": "nominal", "scale": {"domain": ["w", "b"], "range": ["#ffffff", "#1e8fff"]}, "legend": null}
}
},
{
"data": {"name": "hours"},
"mark": {"type": "rule", "color": "#ff0000", "strokeWidth": 1, "xOffset": 0.5},
"encoding": {"x": {"field": "t", "type": "quantitative"}, "y": {"datum": 0, "type": "quantitative", "axis": {"values": [0,1,2,3,4,5,6,7], "tickCount": 8, "labelPadding": 5, "labelOverlap": false}}, "y2": {"datum": 6.875}}
},
{
"data": {"name": "solid"},
"mark": {"type": "rule", "color": "#ff0000", "strokeWidth": 1, "yOffset": 0.5},
"encoding": {"y": {"field": "v", "type": "quantitative", "axis": {"values": [0,1,2,3,4,5,6,7], "tickCount": 8, "labelPadding": 5, "labelOverlap": false}}, "x": {"datum": 19, "type": "quantitative"}, "x2": {"datum": 31}}
},
{
"data": {"name": "dashed"},
"mark": {"type": "rule", "color": "#ff0000", "strokeWidth": 1, "yOffset": 0.5, "strokeDash": [11, 9]},
"encoding": {"y": {"field": "v", "type": "quantitative", "axis": {"values": [0,1,2,3,4,5,6,7], "tickCount": 8, "labelPadding": 5, "labelOverlap": false}}, "x": {"datum": 19, "type": "quantitative"}, "x2": {"datum": 31}}
}
]
}
